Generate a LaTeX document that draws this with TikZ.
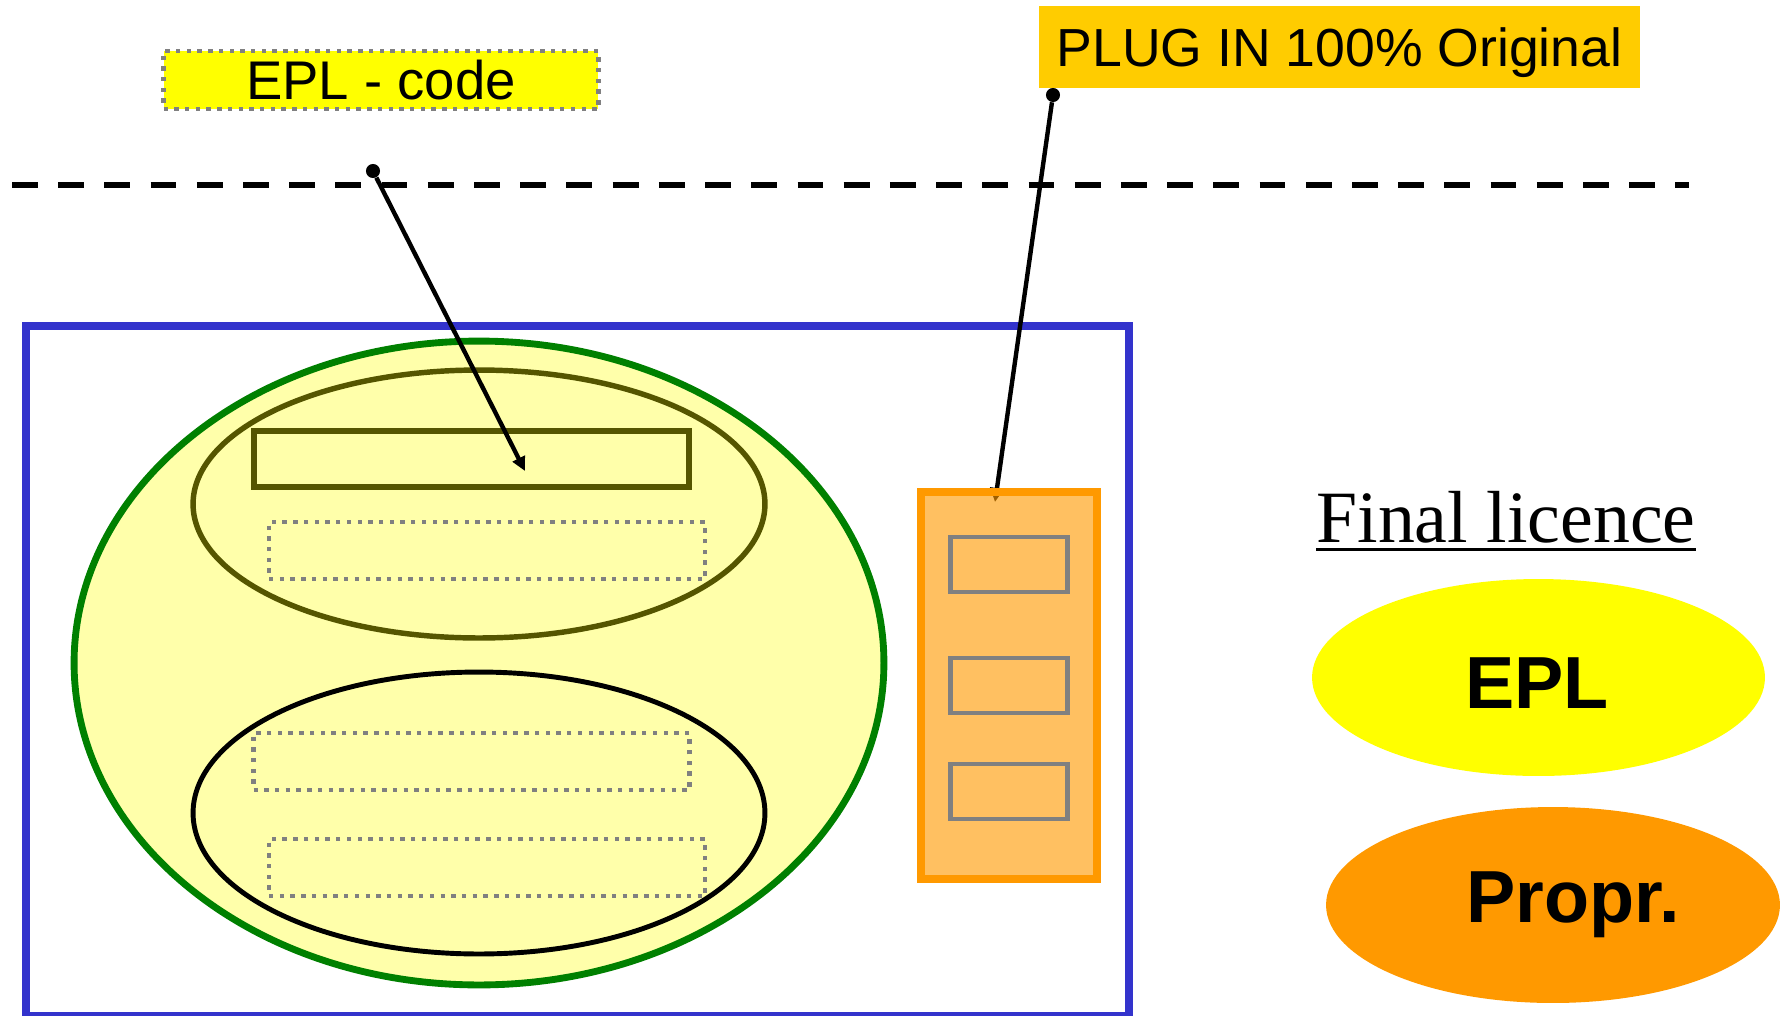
\documentclass[tikz,border=0pt]{standalone}
\usepackage{fontspec}
\setmainfont{Liberation Serif}
\setsansfont{Liberation Sans}
\usetikzlibrary{shapes.geometric,arrows.meta}
\definecolor{frameblue}{HTML}{3333CC}
\definecolor{outgreen}{HTML}{008000}
\definecolor{paleyellow}{HTML}{FFFFAA}
\definecolor{olivedark}{HTML}{555500}
\definecolor{plugorange}{HTML}{FF9900}
\definecolor{pluggold}{HTML}{FFCC00}
\definecolor{dotgray}{HTML}{808080}
\definecolor{fullyellow}{HTML}{FFFF00}

\begin{document}
\begin{tikzpicture}[x=0.02cm, y=-0.02cm,
  dotbox/.style={draw=dotgray, line width=2.6pt, dash pattern=on 2.5pt off 3.6pt, inner sep=0pt, minimum width=8.72cm, minimum height=1.14cm},
  graybox/.style={draw=dotgray, line width=2.8pt, inner sep=0pt, minimum width=2.34cm, minimum height=1.1cm},
  pin/.style={circle, fill, inner sep=0pt, minimum size=8pt},
  pointer/.style={line width=2.5pt, -{Triangle[length=8pt,width=7.5pt]}},
  bigword/.style={anchor=base west, inner sep=0pt, font=\sffamily\bfseries\fontsize{42}{48}\selectfont}]
\useasboundingbox (0,0) rectangle (1789,1015);
\draw[line width=3.8pt, dash pattern=on 14.7pt off 11.6pt] (12,185) -- (1689,185);
\node[dotbox, fill=fullyellow, minimum width=8.7cm, minimum height=1.16cm, font=\sffamily\fontsize{31}{36}\selectfont] (eplcode) at (381,80){EPL - code};
\node[fill=pluggold, inner sep=0pt, text depth=0pt, minimum width=12.02cm, minimum height=1.64cm, font=\sffamily\fontsize{30.5}{36}\selectfont] (plugin) at (1339.5,47){PLUG IN 100\% Original};
\node[pin] (dotcode) at (373,171){};
\node[pin] (dotplug) at (1053,95){};
\coordinate (tipcode) at (525,471);
\coordinate (tipplug) at (995,502);
% frame and modules
\draw[frameblue, line width=4.4pt] (26,326) rectangle (1129,1016);
\node[ellipse, draw=outgreen, fill=paleyellow, line width=3.9pt, inner sep=0pt, minimum width=16.2cm, minimum height=12.88cm] (core) at (479,663){};
\node[ellipse, draw=olivedark, fill=paleyellow, line width=3.1pt, inner sep=0pt, minimum width=11.44cm, minimum height=5.36cm] (upmod) at (479,504){};
\node[draw=olivedark, line width=3.1pt, inner sep=0pt, minimum width=8.7cm, minimum height=1.12cm] (eplblock) at (471.5,459){};
\node[dotbox] (blockb) at (487,550.5){};
\node[ellipse, draw=black, fill=paleyellow, line width=2.8pt, inner sep=0pt, minimum width=11.44cm, minimum height=5.64cm] (lowmod) at (479,813){};
\node[dotbox] (blockc) at (471.5,761.5){};
\node[dotbox] (blockd) at (487,867.5){};
\draw[pointer](dotplug) -- (tipplug);
\node[draw=plugorange, fill=plugorange, fill opacity=0.62, line width=4.1pt, inner sep=0pt, minimum width=3.52cm, minimum height=7.74cm] (plugbox) at (1009,685.5){};
\node[graybox] (plugb1) at (1009,564.5){};
\node[graybox] (plugb2) at (1009,685.5){};
\node[graybox] (plugb3) at (1009,791.5){};
\draw[pointer](dotcode) -- (tipcode);
% licence side
\node[anchor=base, inner sep=0pt, font=\fontsize{42}{50}\selectfont] (finlic) at (1506,542){Final licence};
\draw[line width=1.6pt] ([yshift=-4.2pt]finlic.base west) -- ([yshift=-4.2pt]finlic.base east);
\node[ellipse, fill=fullyellow, inner sep=0pt, minimum width=9.06cm, minimum height=3.94cm] (eplell) at (1538.5,677.5){};
\node[bigword] (epltext) at (1465,708){EPL};
\node[ellipse, fill=plugorange, inner sep=0pt, minimum width=9.08cm, minimum height=3.92cm] (proprell) at (1553,905){};
\node[bigword] (proprtext) at (1466,922){Propr.};
\end{tikzpicture}
\end{document}
